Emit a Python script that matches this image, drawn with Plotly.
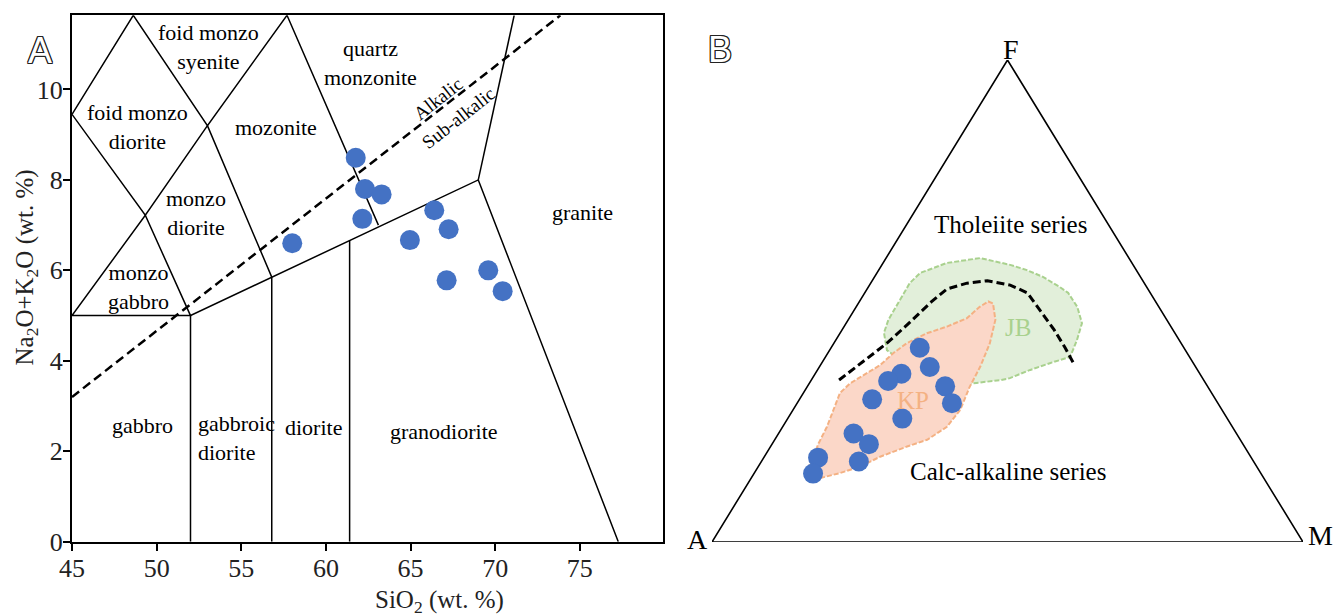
import plotly.graph_objects as go

# ---------------- Panel A : TAS (SiO2 vs Na2O+K2O) ----------------
sio2 = [61.76, 62.31, 63.29, 62.15, 66.40, 67.25, 64.96, 69.59, 67.13, 70.44, 58.01]
alkali = [8.49, 7.80, 7.68, 7.14, 7.33, 6.91, 6.67, 6.00, 5.78, 5.54, 6.60]

# field boundaries (polylines separated by None)
bound_x = [45, 48.62, 53.0, 57.7, 63.1, None,
           45, 49.33, 53.0, 56.8, None,
           45, 49.33, 52.0, 45, None,
           52.0, 52.0, 69.0, 77.27, None,
           56.8, 56.8, None,
           61.4, 61.4, None,
           69.0, 71.12]
bound_y = [9.45, 11.64, 9.2, 11.64, 7.0, None,
           9.45, 7.22, 9.2, 5.85, None,
           5.0, 7.22, 5.0, 5.0, None,
           0.0, 5.0, 8.0, 0.0, None,
           0.0, 5.85, None,
           0.0, 6.66, None,
           8.0, 11.64]

alk_line_x = [45, 73.85]
alk_line_y = [3.2, 11.64]

field_names = ["foid monzo<br>syenite", "foid monzo<br>diorite", "mozonite",
               "quartz<br>monzonite", "monzo<br>diorite", "monzo<br>gabbro",
               "gabbro", "diorite", "granodiorite", "granite"]
field_x = [53.07, 48.88, 57.08, 62.66, 52.32, 48.9, 49.16, 59.29, 66.98, 75.15]
field_y = [10.94, 9.17, 9.16, 10.59, 7.27, 5.63, 2.57, 2.52, 2.43, 7.29]

x_ticks = [45, 50, 55, 60, 65, 70, 75]
y_ticks = [0, 2, 4, 6, 8, 10]

# ---------------- Panel B : AFM ternary (A, F, M in %) ----------------
afm_F = [40.3, 36.3, 34.9, 33.4, 29.6, 32.3, 28.8, 25.6, 22.5, 20.3, 16.7, 17.5, 14.2]
afm_M = [15.0, 18.7, 14.6, 13.1, 12.3, 23.3, 26.2, 19.4, 12.7, 16.4, 16.5, 9.2, 10.0]
afm_A = [100 - f - m for f, m in zip(afm_F, afm_M)]

# KP field outline
kp_F = [12.9, 14.3, 15.6, 17.7, 19.8, 21.2, 23.9, 27.4, 32.2, 36.4, 41.2, 46.1, 49.5, 49.9,
        48.8, 46.4, 44.7, 43.3, 41.2, 39.2, 36.7, 35.0, 32.9, 30.9, 27.4, 23.9, 20.5, 17.0,
        15.6, 13.6, 12.9]
kp_M = [10.7, 14.5, 17.2, 19.6, 23.1, 25.8, 27.8, 28.3, 27.5, 27.2, 26.4, 24.9, 22.8, 21.8,
        20.9, 19.9, 17.4, 14.7, 12.3, 11.1, 10.1, 8.7, 6.9, 6.2, 6.8, 7.5, 7.8, 8.4,
        8.5, 9.8, 10.7]
# JB field outline
jb_F = [50.2, 53.7, 55.8, 57.9, 58.9, 57.5, 56.4, 55.0, 52.9, 51.7, 48.8, 45.4, 41.9, 38.4,
        37.1, 35.7, 34.0, 33.6, 33.0, 32.6, 35.7, 37.8, 39.8, 43.4, 46.1, 50.2]
jb_M = [6.7, 6.6, 7.3, 10.8, 15.9, 21.7, 25.1, 28.5, 32.4, 34.4, 37.4, 39.9, 40.8, 41.4,
        38.6, 36.0, 33.4, 32.1, 28.2, 25.7, 19.1, 12.9, 9.7, 7.4, 6.8, 6.7]
# tholeiitic / calc-alkaline divide
div_F = [33.6, 37.3, 41.3, 45.6, 49.8, 52.5, 53.7, 54.2, 53.3, 51.7, 48.1, 44.0, 40.3, 36.9]
div_M = [4.7, 6.7, 9.0, 10.7, 12.2, 13.5, 16.3, 19.5, 23.8, 27.5, 31.4, 35.9, 39.6, 42.8]

# triangle apexes A, F, M
tri_F = [0, 100, 0, 0]
tri_M = [0, 0, 100, 0]
apex_names = ["A", "F", "M"]


def proj(F, M):
    """ternary (F, M) -> cartesian x (0-100), y (0-100)"""
    return [m + f / 2 for f, m in zip(F, M)], list(F)


FONT = "Liberation Serif"
BLUE = "#4472C4"

fig = go.Figure()

# ---- panel A traces
fig.add_trace(go.Scatter(x=bound_x, y=bound_y, mode="lines",
                         line=dict(color="black", width=1.5), xaxis="x", yaxis="y",
                         hoverinfo="skip", showlegend=False))
fig.add_trace(go.Scatter(x=alk_line_x, y=alk_line_y, mode="lines",
                         line=dict(color="black", width=2.5, dash="9px,5px"),
                         xaxis="x", yaxis="y", showlegend=False))
fig.add_trace(go.Scatter(x=sio2, y=alkali, mode="markers",
                         marker=dict(color=BLUE, size=20), xaxis="x", yaxis="y",
                         showlegend=False))

# ---- panel B traces
jx, jy = proj(jb_F, jb_M)
fig.add_trace(go.Scatter(x=jx, y=jy, mode="lines", fill="toself", fillcolor="#E2EFDA",
                         line=dict(color="#A9D18E", width=2, dash="5px,2px"),
                         xaxis="x2", yaxis="y2", showlegend=False))
kx, ky = proj(kp_F, kp_M)
fig.add_trace(go.Scatter(x=kx, y=ky, mode="lines", fill="toself", fillcolor="#FBD7C8",
                         line=dict(color="#F4B183", width=2, dash="5px,2px"),
                         xaxis="x2", yaxis="y2", showlegend=False))
dx, dy = proj(div_F, div_M)
fig.add_trace(go.Scatter(x=dx, y=dy, mode="lines",
                         line=dict(color="black", width=3, dash="8px,4px"),
                         xaxis="x2", yaxis="y2", showlegend=False))
tx, ty = proj(tri_F, tri_M)
fig.add_trace(go.Scatter(x=tx, y=ty, mode="lines",
                         line=dict(color="black", width=1.6),
                         xaxis="x2", yaxis="y2", showlegend=False, cliponaxis=False))
px_, py_ = proj(afm_F, afm_M)
fig.add_trace(go.Scatter(x=px_, y=py_, mode="markers",
                         marker=dict(color=BLUE, size=20),
                         customdata=list(zip(afm_A, afm_F, afm_M)),
                         xaxis="x2", yaxis="y2", showlegend=False))

ann = []
for name, x, y in zip(field_names, field_x, field_y):
    ann.append(dict(text=name, x=x, y=y, xref="x", yref="y", showarrow=False,
                    font=dict(family=FONT, size=22, color="black")))
ann.append(dict(text="gabbroic<br>diorite", x=52.31, y=2.30, xref="x", yref="y",
                showarrow=False, xanchor="left", align="left",
                font=dict(family=FONT, size=22, color="black")))
ann.append(dict(text="Alkalic", x=66.64, y=9.80, xref="x", yref="y", showarrow=False,
                textangle=-38, font=dict(family=FONT, size=19, color="black")))
ann.append(dict(text="Sub-alkalic", x=67.86, y=9.38, xref="x", yref="y", showarrow=False,
                textangle=-38, font=dict(family=FONT, size=19, color="black")))
# axis titles
ann.append(dict(text="SiO<sub>2</sub> (wt. %)", x=0.2775, y=-0.008, xref="paper",
                yref="paper", showarrow=False, font=dict(family=FONT, size=25, color="#222")))
ann.append(dict(text="Na<sub>2</sub>O+K<sub>2</sub>O (wt. %)", x=8 / 1343, y=1 - 268 / 614,
                xref="paper", yref="paper", showarrow=False, textangle=-90,
                font=dict(family=FONT, size=25, color="#222")))
# apex labels (anchored on the triangle corners, offset outward)
apex_shift = {"A": (-15, 3), "F": (3, 11), "M": (17, 7)}
ax_, ay_ = proj(tri_F[:3], tri_M[:3])
for name, x, y in zip(apex_names, ax_, ay_):
    sx, sy = apex_shift[name]
    ann.append(dict(text=name, x=x, y=y, xref="x2", yref="y2", showarrow=False,
                    xshift=sx, yshift=sy, font=dict(family=FONT, size=28, color="black")))
# panel B labels
b_labels = [("Tholeiite series", 50.5, 65.8, 25, "black"),
            ("Calc-alkaline series", 50.0, 14.6, 25, "black"),
            ("KP", 34.0, 29.3, 25, "#F4B183"), ("JB", 51.8, 44.4, 25, "#A9D18E")]
for t, x, y, s, c in b_labels:
    ann.append(dict(text=t, x=x, y=y, xref="x2", yref="y2", showarrow=False,
                    font=dict(family=FONT, size=s, color=c)))
# panel letters (outlined)
outline = ("-1px -1px 0 #222, 1px -1px 0 #222, -1px 1px 0 #222, 1px 1px 0 #222, "
           "0 -1px 0 #222, 0 1px 0 #222, -1px 0 0 #222, 1px 0 0 #222")
for t, x, y in [("A", 26 / 1343, 1 - 28 / 614), ("B", 720 / 1343, 1 - 27 / 614)]:
    ann.append(dict(text=t, x=x, y=y, xref="paper", yref="paper", showarrow=False,
                    font=dict(family="Liberation Sans", size=36,
                              color="white", shadow=outline)))

axis_common = dict(showline=True, linecolor="black", linewidth=2, mirror=True,
                   ticks="outside", ticklen=7, tickwidth=1.5, tickcolor="black",
                   showgrid=False, zeroline=False, automargin=False,
                   tickfont=dict(family=FONT, size=26, color="#222"))

fig.update_layout(
    width=1343, height=614,
    margin=dict(l=0, r=0, t=0, b=0, pad=0, autoexpand=False),
    font=dict(family=FONT, size=25, color="#222"),
    paper_bgcolor="white", plot_bgcolor="white",
    showlegend=False,
    xaxis=dict(domain=[72 / 1343, 663.3 / 1343], range=[45, 79.93],
               tickvals=x_ticks, anchor="y", ticklabelstandoff=-5, **axis_common),
    yaxis=dict(domain=[1 - 541.7 / 614, 1 - 15.3 / 614], range=[0, 11.64],
               tickvals=y_ticks, anchor="x", ticklabelstandoff=-5, **axis_common),
    xaxis2=dict(domain=[712 / 1343, 1303 / 1343], range=[0, 100], visible=False,
                anchor="y2"),
    yaxis2=dict(domain=[1 - 542 / 614, 1 - 60 / 614], range=[0, 100], visible=False,
                anchor="x2"),
    annotations=ann,
)

fig.write_html("out.html")
